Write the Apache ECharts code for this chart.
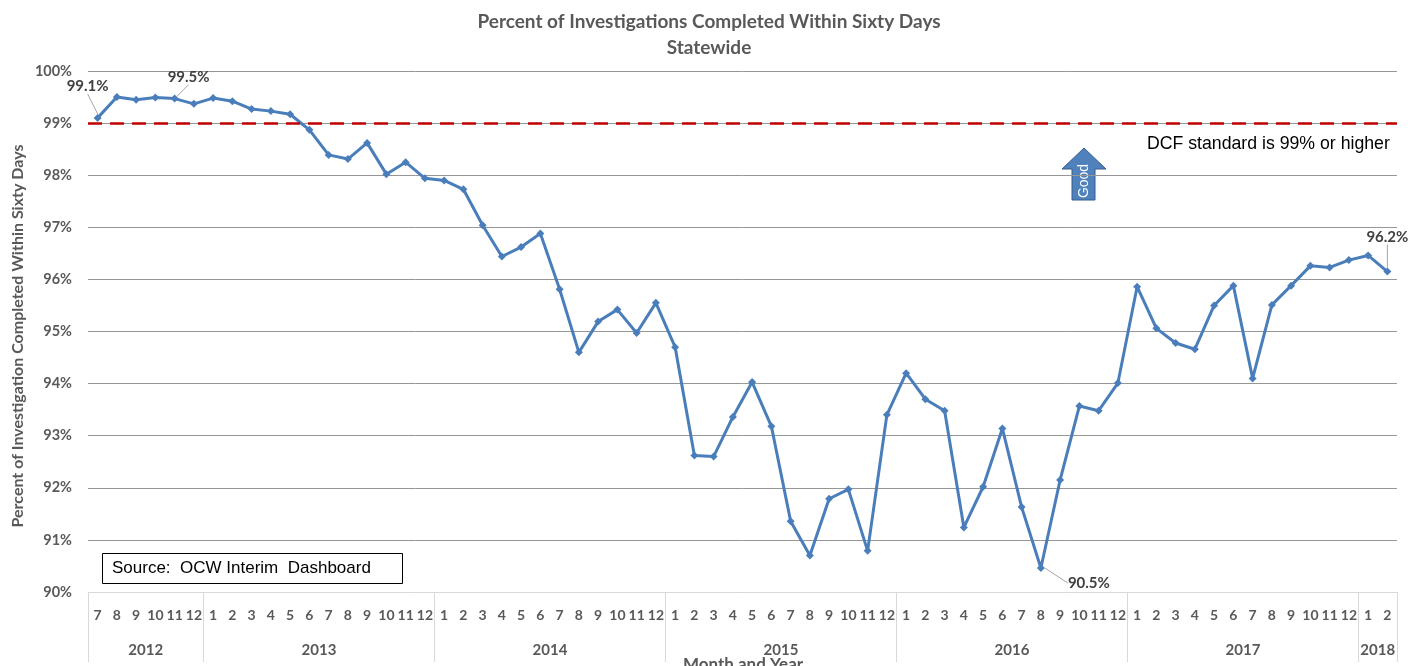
<!DOCTYPE html>
<html>
<head>
<meta charset="utf-8">
<script src="https://cdn.jsdelivr.net/npm/echarts@6/dist/echarts.min.js"></script>
<style>
  html, body { margin: 0; padding: 0; background: #fff; }
  #chart { width: 1418px; height: 666px; }
</style>
</head>
<body>
<div id="chart"></div>
<script>
// month tick labels, Jul 2012 .. Feb 2018
var monthLabels = [
  '7','8','9','10','11','12',
  '1','2','3','4','5','6','7','8','9','10','11','12',
  '1','2','3','4','5','6','7','8','9','10','11','12',
  '1','2','3','4','5','6','7','8','9','10','11','12',
  '1','2','3','4','5','6','7','8','9','10','11','12',
  '1','2','3','4','5','6','7','8','9','10','11','12',
  '1','2'
];
var yearLabels = ['2012','2013','2014','2015','2016','2017','2018'];
var monthsPerYear = [6, 12, 12, 12, 12, 12, 2];

var pctCompleted = [
  99.10, 99.50, 99.45, 99.49, 99.47, 99.37,
  99.48, 99.42, 99.27, 99.23, 99.17, 98.87, 98.39, 98.31, 98.62, 98.02, 98.25, 97.94,
  97.90, 97.73, 97.04, 96.44, 96.62, 96.88, 95.81, 94.60, 95.19, 95.42, 94.97, 95.55,
  94.70, 92.62, 92.60, 93.36, 94.03, 93.18, 91.36, 90.70, 91.79, 91.97, 90.79, 93.40,
  94.20, 93.70, 93.48, 91.24, 92.02, 93.14, 91.63, 90.46, 92.15, 93.57, 93.48, 94.01,
  95.86, 95.06, 94.78, 94.66, 95.50, 95.88, 94.10, 95.51, 95.88, 96.26, 96.23, 96.37,
  96.46, 96.15
];
var standardPct = 99;
var labelledPoints = [0, 4, 49, 67];

// year separators and label centres on a 0..N value scale
var yearBounds = [0];
monthsPerYear.forEach(function (n, i) { yearBounds.push(yearBounds[i] + n); });
var yearCenters = yearLabels.map(function (y, i) { return (yearBounds[i] + yearBounds[i + 1]) / 2; });

var labelShift = { 0: [-10, -15], 4: [14, -5], 49: [18, 15], 67: [0, -18] };

var seriesData = pctCompleted.map(function (v, i) {
  if (labelledPoints.indexOf(i) < 0) return v;
  return { value: v, label: { show: true, position: i === 49 ? 'right' : 'top' } };
});

var txt = '#595959';
var font = 'Lato';

var option = {
  animation: false,
  title: {
    text: 'Percent of Investigations Completed Within Sixty Days\nStatewide',
    left: 'center',
    top: 4,
    textStyle: { fontFamily: font, fontSize: 19, fontWeight: 'bold', color: txt, lineHeight: 26 }
  },
  grid: { left: 88, right: 21, top: 71, bottom: 74 },
  xAxis: [
    {
      type: 'category',
      data: monthLabels,
      boundaryGap: true,
      axisLine: { lineStyle: { color: '#d9d9d9' } },
      axisTick: { show: false },
      axisLabel: {
        interval: 0, margin: 16,
        fontFamily: font, fontSize: 14, fontWeight: 'bold', color: txt
      }
    },
    {
      type: 'value',
      min: 0,
      max: yearBounds[yearBounds.length - 1],
      position: 'bottom',
      axisLine: { show: false },
      splitLine: { show: false },
      axisTick: {
        show: true, length: 70, customValues: yearBounds,
        lineStyle: { color: '#d9d9d9' }
      },
      axisLabel: {
        customValues: yearCenters, margin: 51,
        fontFamily: font, fontSize: 15, fontWeight: 'bold', color: txt,
        formatter: function (v) {
          var i = yearCenters.indexOf(v);
          return i >= 0 ? yearLabels[i] : '';
        }
      }
    }
  ],
  yAxis: {
    type: 'value',
    min: 90,
    max: 100,
    interval: 1,
    axisLine: { show: false },
    axisTick: { show: false },
    splitLine: { lineStyle: { color: '#969696' } },
    axisLabel: {
      margin: 16, formatter: '{value}%',
      fontFamily: font, fontSize: 14.5, fontWeight: 'bold', color: txt
    }
  },
  series: [{
    type: 'line',
    data: seriesData,
    symbol: 'diamond',
    symbolSize: 8,
    lineStyle: { color: '#4a7ebb', width: 3 },
    itemStyle: { color: '#4a7ebb' },
    label: {
      show: false,
      fontFamily: font, fontSize: 15, fontWeight: 'bold', color: '#404040',
      formatter: function (p) { return p.value.toFixed(1) + '%'; }
    },
    labelLine: { show: true, lineStyle: { color: '#a6a6a6', width: 1 } },
    labelLayout: function (p) {
      var s = labelShift[p.dataIndex];
      return s ? { dx: s[0], dy: s[1] } : {};
    },
    markLine: {
      silent: true,
      symbol: 'none',
      label: { show: false },
      lineStyle: { color: '#c00000', width: 2.5, type: [14, 8] },
      data: [{ yAxis: standardPct }]
    }
  }],
  graphic: [
    {
      type: 'text', x: 1147, y: 144,
      style: { text: 'DCF standard is 99% or higher', fontFamily: 'Liberation Sans', fontSize: 17.7, fill: '#000', verticalAlign: 'middle' }
    },
    {
      type: 'polygon',
      shape: { points: [[1072, 200], [1072, 169], [1062, 169], [1084, 148], [1106, 169], [1095, 169], [1095, 200]] },
      style: { fill: '#4f81bd', stroke: '#385d8a', lineWidth: 1 }
    },
    {
      type: 'text', x: 1084, y: 181, rotation: Math.PI / 2,
      style: { text: 'Good', fontFamily: 'Liberation Sans', fontSize: 14, fill: '#fff', align: 'center', verticalAlign: 'middle' }
    },
    {
      type: 'rect',
      shape: { x: 102.5, y: 553.5, width: 300, height: 30 },
      style: { fill: '#fff', stroke: '#000', lineWidth: 1 }
    },
    {
      type: 'text', x: 112, y: 568,
      style: { text: 'Source:  OCW Interim  Dashboard', fontFamily: 'Liberation Sans Narrow, Liberation Sans', fontSize: 17, fill: '#000', verticalAlign: 'middle' }
    },
    {
      type: 'text', x: 18, y: 336, rotation: Math.PI / 2,
      style: { text: 'Percent of Investigation Completed Within Sixty Days', fontFamily: font, fontSize: 16, fontWeight: 'bold', fill: txt, align: 'center', verticalAlign: 'middle' }
    },
    {
      type: 'text', x: 743, y: 665,
      style: { text: 'Month and Year', fontFamily: font, fontSize: 17, fontWeight: 'bold', fill: txt, align: 'center', verticalAlign: 'middle' }
    }
  ]
};

var myChart = echarts.init(document.getElementById('chart'));
myChart.setOption(option);
</script>
</body>
</html>
